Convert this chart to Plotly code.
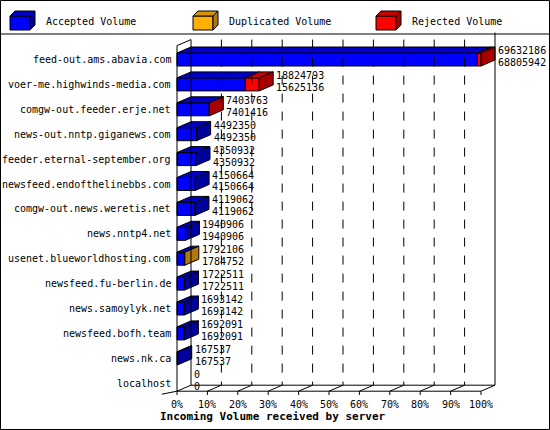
import plotly.graph_objects as go

# Data
servers = ["feed-out.ams.abavia.com", "voer-me.highwinds-media.com", "comgw-out.feeder.erje.net",
           "news-out.nntp.giganews.com", "feeder.eternal-september.org", "newsfeed.endofthelinebbs.com",
           "comgw-out.news.weretis.net", "news.nntp4.net", "usenet.blueworldhosting.com",
           "newsfeed.fu-berlin.de", "news.samoylyk.net", "newsfeed.bofh.team", "news.nk.ca", "localhost"]
accepted = [68805942, 15625136, 7401416, 4492350, 4350932, 4150664, 4119062, 1940906, 1784752,
            1722511, 1693142, 1692091, 167537, 0]
duplicated = [0, 0, 0, 0, 0, 0, 0, 0, 7354, 0, 0, 0, 0, 0]
rejected = [826244, 3199657, 2347, 0, 0, 0, 0, 0, 0, 0, 0, 0, 0, 0]
tick_labels = ["0%", "10%", "20%", "30%", "40%", "50%", "60%", "70%", "80%", "90%", "100%"]

W, H = 550, 430
X0, PX = 177, 3.04          # pixel of 0%, pixels per percent
Y0, ROW = 59.5, 24.9        # pixel of first row, pixels per row
DX, DY, HH = 14 / PX, 6 / ROW, 6.5 / ROW
MONO = "DejaVu Sans Mono"

colors = {"acc": ("#0000ff", "#0000c8", "#00009c"),
          "dup": ("#ffb000", "#d89400", "#b07810"),
          "rej": ("#ff0000", "#c80000", "#a80000")}

fig = go.Figure()

def poly(xs, ys, color):
    fig.add_trace(go.Scatter(x=xs + [xs[0]], y=ys + [ys[0]], mode="lines", fill="toself",
                             fillcolor=color, line=dict(color="black", width=1),
                             hoverinfo="skip", showlegend=False))

vmax = max(a + d + r for a, d, r in zip(accepted, duplicated, rejected))
annotations = []
for i, name in enumerate(servers):
    total = accepted[i] + duplicated[i] + rejected[i]
    segs = []
    start = 0
    for val, key in [(accepted[i], "acc"), (duplicated[i], "dup"), (rejected[i], "rej")]:
        if val > 0:
            segs.append((start / vmax * 100, (start + val) / vmax * 100, key))
            start += val
    for x0, x1, key in segs:
        front, top, _ = colors[key]
        poly([x0, x1, x1, x0], [i - HH, i - HH, i + HH, i + HH], front)
        poly([x0, x1, x1 + DX, x0 + DX], [i - HH, i - HH, i - HH - DY, i - HH - DY], top)
    if segs:
        x1, key = segs[-1][1], segs[-1][2]
        poly([x1, x1 + DX, x1 + DX, x1], [i - HH, i - HH - DY, i + HH - DY, i + HH], colors[key][2])
    annotations.append(dict(x=0, y=i, text=name, xanchor="right", xshift=-4, showarrow=False,
                            font=dict(family=MONO, size=10, color="black")))
    lx = total / vmax * 100 + DX
    for txt, off in [(str(total), -0.24), (str(accepted[i]), 0.24)]:
        annotations.append(dict(x=lx, y=i + off - DY / 2, text=txt, xanchor="left", xshift=1,
                                showarrow=False, font=dict(family=MONO, size=10, color="black")))

n = len(servers)
bot_front = n - 1 + 8 / ROW
bot_back = bot_front - DY
top_back = -0.8
shapes = []
line = dict(color="black", width=1)
# back plane and grid
for k in range(1, 10):
    shapes.append(dict(type="line", x0=k * 10 + DX, x1=k * 10 + DX, y0=top_back, y1=bot_back,
                       line=dict(color="black", width=1, dash="dash")))
shapes.append(dict(type="line", x0=DX, x1=DX, y0=top_back, y1=bot_back, line=line))
shapes.append(dict(type="line", x0=100 + DX, x1=100 + DX, y0=-1.08, y1=bot_back, line=line))
shapes.append(dict(type="line", x0=DX, x1=100 + DX, y0=bot_back, y1=bot_back, line=line))
# front axes
shapes.append(dict(type="line", x0=0, x1=0, y0=top_back + DY, y1=bot_front, line=line))
shapes.append(dict(type="line", x0=0, x1=100, y0=bot_front, y1=bot_front, line=line))
shapes.append(dict(type="line", x0=0, x1=DX, y0=top_back + DY, y1=top_back, line=line))
shapes.append(dict(type="line", x0=-5, x1=0, y0=bot_front + 0.12, y1=bot_front, line=line))
for k in range(11):
    shapes.append(dict(type="line", x0=k * 10, x1=k * 10 + DX, y0=bot_front, y1=bot_back, line=line))
    shapes.append(dict(type="line", x0=k * 10, x1=k * 10, y0=bot_front, y1=bot_front + 0.15, line=line))
    annotations.append(dict(x=k * 10, y=bot_front + 0.52, text=tick_labels[k], showarrow=False,
                            font=dict(family=MONO, size=10, color="black")))

# frame and legend (paper pixels)
def px(x):
    return x / W

def py(y):
    return 1 - y / H

shapes.append(dict(type="rect", xref="paper", yref="paper", x0=px(0.5), x1=px(549.5),
                   y0=py(0.5), y1=py(429.5), line=line))
shapes.append(dict(type="line", xref="paper", yref="paper", x0=0, x1=1, y0=py(34), y1=py(34), line=line))
legend = [("Accepted Volume", "acc", 10), ("Duplicated Volume", "dup", 193), ("Rejected Volume", "rej", 376)]
for text, key, lx in legend:
    front, top, side = colors[key]
    d = 5
    shapes.append(dict(type="rect", xref="paper", yref="paper", x0=px(lx), x1=px(lx + 20),
                       y0=py(11 + d), y1=py(30), fillcolor=front, line=line))
    shapes.append(dict(type="path", xref="paper", yref="paper", fillcolor=top, line=line,
                       path=f"M {px(lx)} {py(11 + d)} L {px(lx + d)} {py(11)} L {px(lx + 20 + d)} {py(11)} "
                            f"L {px(lx + 20)} {py(11 + d)} Z"))
    shapes.append(dict(type="path", xref="paper", yref="paper", fillcolor=side, line=line,
                       path=f"M {px(lx + 20)} {py(11 + d)} L {px(lx + 20 + d)} {py(11)} "
                            f"L {px(lx + 20 + d)} {py(25)} L {px(lx + 20)} {py(30)} Z"))
    annotations.append(dict(xref="paper", yref="paper", x=px(lx + 34), y=py(21), text=text,
                            xanchor="left", yanchor="middle", showarrow=False,
                            font=dict(family=MONO, size=10, color="black")))

annotations.append(dict(xref="paper", yref="paper", x=px(273), y=py(416), yanchor="middle",
                        text="<b>Incoming Volume received by server</b>",
                        showarrow=False, font=dict(family=MONO, size=11, color="black")))

fig.update_layout(
    width=W, height=H, margin=dict(l=0, r=0, t=0, b=0),
    plot_bgcolor="white", paper_bgcolor="white", showlegend=False,
    xaxis=dict(range=[(0 - X0) / PX, (W - X0) / PX], visible=False, fixedrange=True),
    yaxis=dict(range=[(H - Y0) / ROW, (0 - Y0) / ROW], visible=False, fixedrange=True),
    shapes=shapes, annotations=annotations,
)

fig.write_html("out.html", config={"displayModeBar": False},
               post_script="document.body.style.margin='0';document.body.style.overflow='hidden';")
